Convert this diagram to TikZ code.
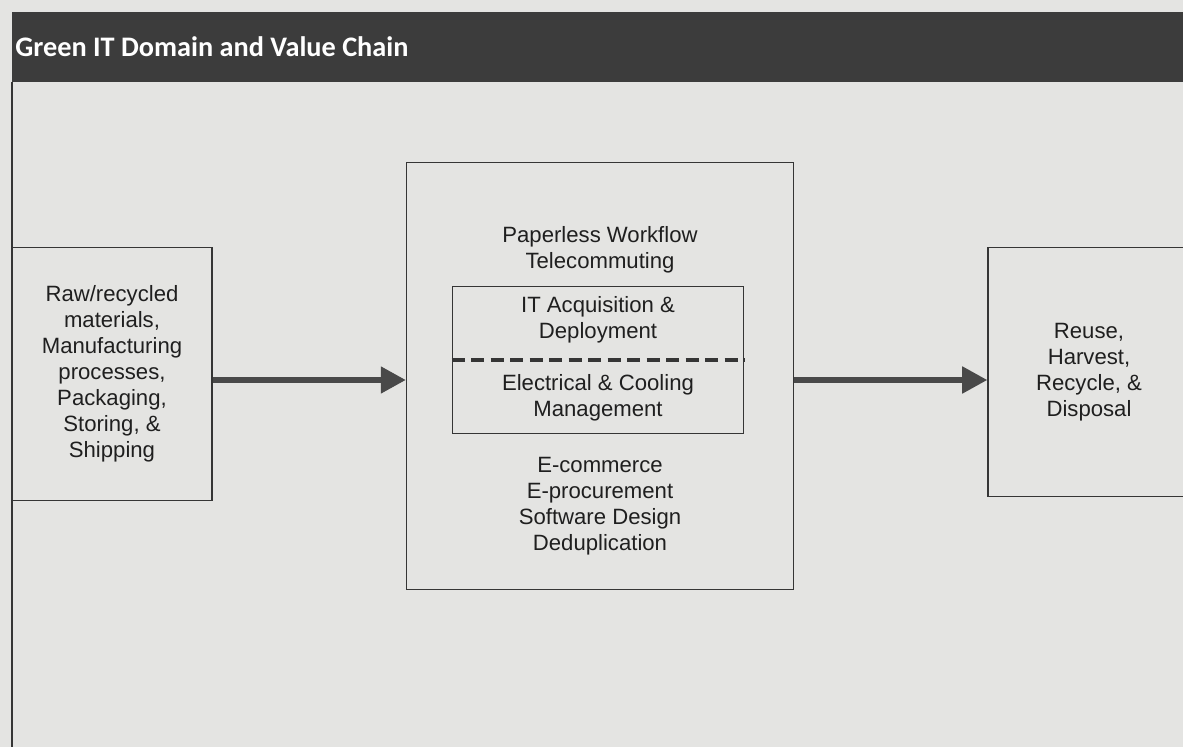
\documentclass[tikz,border=0pt]{standalone}
\usepackage{fontspec}
\setmainfont{Liberation Sans}
\newfontfamily\titlefont{Carlito}
\usetikzlibrary{arrows.meta}
\definecolor{paper}{HTML}{E4E4E2}
\definecolor{ink}{HTML}{353535}
\definecolor{band}{HTML}{3C3C3C}
\tikzset{
  box/.style={draw=ink, line width=0.9pt, inner sep=0pt, align=center,
    font=\fontsize{12.6}{14.8}\selectfont, text=black!88},
  label/.style={align=center, font=\fontsize{12.6}{14.8}\selectfont, text=black!88},
  flow/.style={draw=ink!90, line width=2.9pt, -{Triangle[length=0.5cm,width=0.52cm]}}
}
\begin{document}
\begin{tikzpicture}[x=0.02cm, y=-0.02cm]
  \useasboundingbox (0,0) rectangle (1183,747);
  \clip (0,0) rectangle (1183,747);
  \fill[paper] (0,0) rectangle (1183,747);
  % title band and frame
  \fill[band] (12,12) rectangle (1183,82);
  \node[anchor=base west, inner sep=0pt, text=white,
    font=\titlefont\bfseries\fontsize{16.1}{19}\selectfont] (title) at (15,56)
    {Green IT Domain and Value Chain};
  \draw[ink, line width=0.9pt] (12,82) -- (12,747);
  % value chain boxes
  \node[box, minimum width=4cm, minimum height=5.06cm] (source) at (112,374)
    {Raw/recycled\\materials,\\Manufacturing\\processes,\\Packaging,\\Storing, \&\\Shipping};
  \node[box, minimum width=7.74cm, minimum height=8.54cm] (hub) at (600,376) {};
  \node[box, minimum width=5.82cm, minimum height=2.94cm] (core) at (598,360) {};
  \node[box, minimum width=4.04cm, minimum height=4.98cm] (sink) at (1089,372)
    {Reuse,\\Harvest,\\Recycle, \&\\Disposal};
  \draw[ink, line width=1.8pt, dash pattern=on 0.26cm off 0.13cm] (core.west) -- (core.east);
  % texts in the middle box
  \node[label] (office) at (600,250) {Paperless Workflow\\Telecommuting};
  \node[label] (acquire) at (598,320) {IT Acquisition \&\\Deployment};
  \node[label] (cooling) at (598,398) {Electrical \& Cooling\\Management};
  \node[label] (soft) at (600,506) {E-commerce\\E-procurement\\Software Design\\Deduplication};
  % arrows
  \draw[flow] ([yshift=-0.08cm]source.east |- hub.west) -- ([yshift=-0.08cm]hub.west);
  \draw[flow] ([yshift=-0.08cm]hub.east) -- ([yshift=-0.08cm]hub.east -| sink.west);
\end{tikzpicture}
\end{document}
